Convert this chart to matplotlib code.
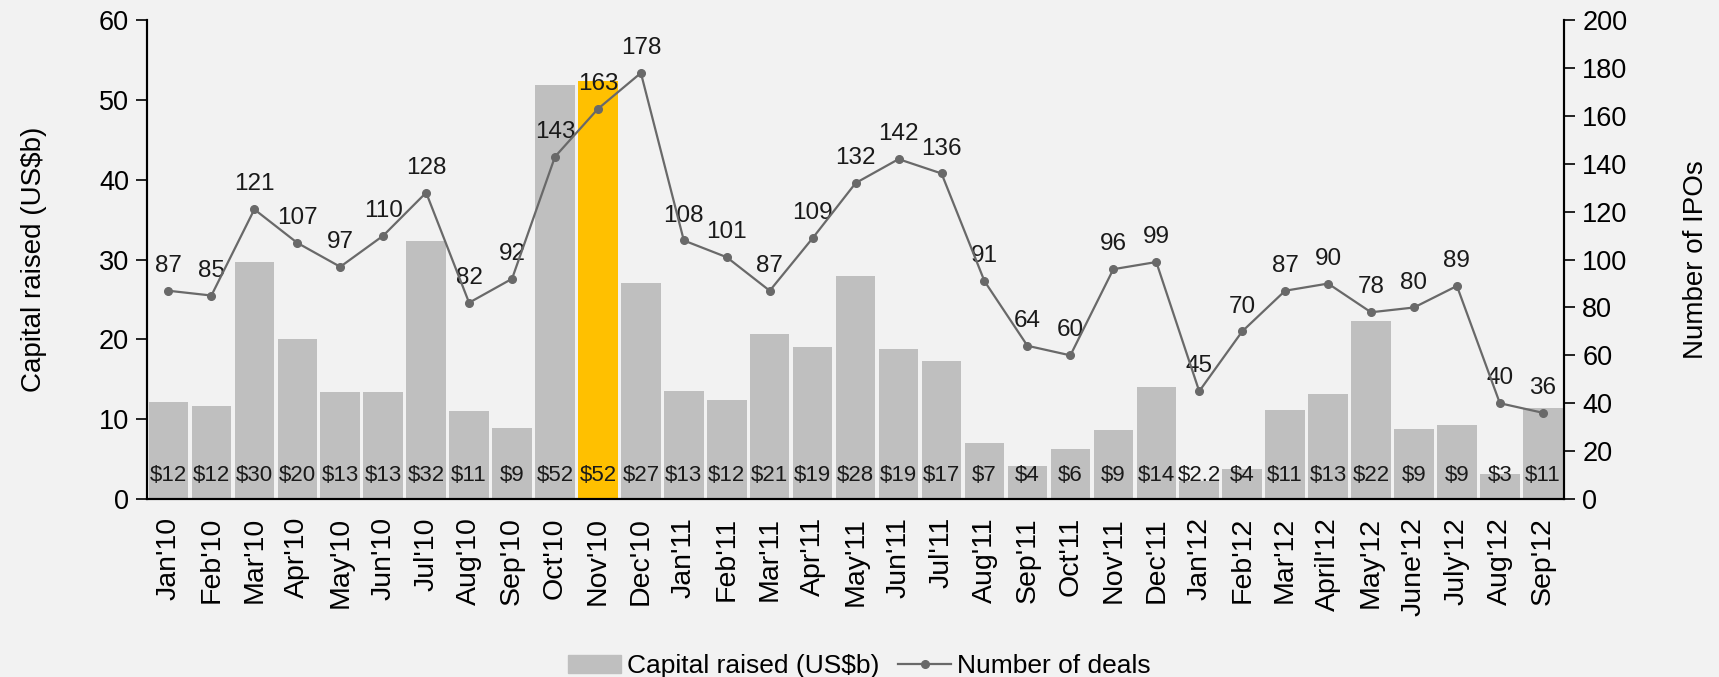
import matplotlib
matplotlib.use("Agg")
import matplotlib.pyplot as plt
from matplotlib.patches import Patch
import numpy as np

plt.rcParams['font.family'] = ['Liberation Sans', 'DejaVu Sans']

months = ["Jan'10", "Feb'10", "Mar'10", "Apr'10", "May'10", "Jun'10", "Jul'10", "Aug'10",
          "Sep'10", "Oct'10", "Nov'10", "Dec'10", "Jan'11", "Feb'11", "Mar'11", "Apr'11",
          "May'11", "Jun'11", "Jul'11", "Aug'11", "Sep'11", "Oct'11", "Nov'11", "Dec'11",
          "Jan'12", "Feb'12", "Mar'12", "April'12", "May'12", "June'12", "July'12",
          "Aug'12", "Sep'12"]
capital = [12.1, 11.6, 29.7, 20.0, 13.4, 13.4, 32.3, 11.0, 8.9, 51.9, 52.4, 27.1, 13.5,
           12.4, 20.7, 19.0, 27.9, 18.8, 17.3, 7.0, 4.1, 6.3, 8.7, 14.0, 2.2, 3.8, 11.1,
           13.1, 22.3, 8.8, 9.3, 3.1, 11.4]
capital_labels = ["$12", "$12", "$30", "$20", "$13", "$13", "$32", "$11", "$9", "$52", "$52",
                  "$27", "$13", "$12", "$21", "$19", "$28", "$19", "$17", "$7", "$4", "$6",
                  "$9", "$14", "$2.2", "$4", "$11", "$13", "$22", "$9", "$9", "$3", "$11"]
deals = [87, 85, 121, 107, 97, 110, 128, 82, 92, 143, 163, 178, 108, 101, 87, 109, 132,
         142, 136, 91, 64, 60, 96, 99, 45, 70, 87, 90, 78, 80, 89, 40, 36]
highlight = "Nov'10"

bg = '#f2f2f2'
fig = plt.figure(figsize=(17.19, 6.77), dpi=100, facecolor=bg)
ax = fig.add_axes([0.0855, 0.263, 0.8245, 0.707], facecolor=bg)
ax2 = ax.twinx()

x = np.arange(len(months))
colors = ['#ffc000' if m == highlight else '#bfbfbf' for m in months]
ax.bar(x, capital, width=0.92, color=colors, zorder=1)
for xi, lab in zip(x, capital_labels):
    ax.text(xi, 2.9, lab, ha='center', va='center', fontsize=16, color='#1a1a1a', zorder=3)

ax.set_xlim(-0.5, len(months) - 0.5)
ax.set_ylim(0, 60)
ax.set_yticks(range(0, 61, 10))
ax.set_xticks(x)
ax.set_xticklabels(months, rotation=90, fontsize=20.5)
ax.tick_params(axis='x', length=0, pad=13)
ax.tick_params(axis='y', labelsize=19.5, length=8, width=1.2, direction='out', pad=5)
ax.set_ylabel('Capital raised (US$b)', fontsize=20, labelpad=37)

line, = ax2.plot(x, deals, color='#696969', lw=1.6, marker='o', markersize=5.5,
                 markerfacecolor='#696969', markeredgecolor='#696969', zorder=4)
for xi, d in zip(x, deals):
    ax2.annotate(str(d), (xi, d), xytext=(0, 10), textcoords='offset points',
                 ha='center', va='bottom', fontsize=17.5, color='#1a1a1a')
ax2.set_ylim(0, 200)
ax2.set_yticks(range(0, 201, 20))
ax2.tick_params(axis='y', labelsize=19.5, length=8, width=1.2, direction='out', pad=5)
ax2.set_ylabel('Number of IPOs', fontsize=20, labelpad=40)

for a in (ax, ax2):
    a.spines['top'].set_visible(False)
    for s in ('left', 'right', 'bottom'):
        a.spines[s].set_color('black')
        a.spines[s].set_linewidth(1.5)
ax.set_zorder(0)
ax2.set_zorder(1)
ax2.patch.set_visible(False)

handles = [Patch(color='#bfbfbf'), line]
labels = ['Capital raised (US$b)', 'Number of deals']
fig.legend(handles, labels, loc='center', bbox_to_anchor=(0.5, 0.016), ncol=2,
           frameon=False, fontsize=19, handlelength=2.0, handletextpad=0.25,
           columnspacing=0.7)

fig.savefig('out.png', dpi=100, facecolor=bg)
